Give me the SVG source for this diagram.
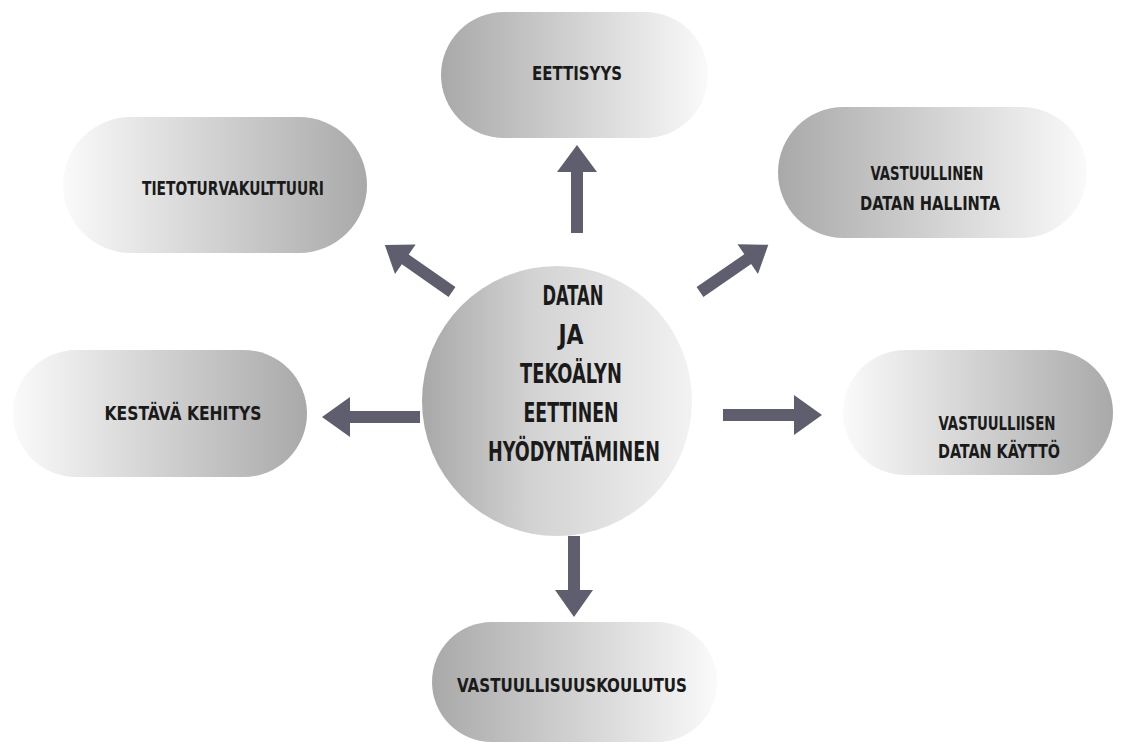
<svg xmlns="http://www.w3.org/2000/svg" width="1123" height="744" viewBox="0 0 1123 744">
<style>
.lbl{font-family:"Liberation Sans Narrow","DejaVu Sans Condensed","Liberation Sans",sans-serif;font-weight:bold;font-stretch:condensed;fill:#1a1a1a;text-anchor:middle}
.pl{font-size:20px}
.ct{font-size:26.5px}
.arr{fill:#5f5e6f}
</style>
<defs>
<linearGradient id="gDL" x1="0" y1="0" x2="1" y2="0">
<stop offset="0" stop-color="#a9a9a9"/><stop offset="1" stop-color="#fafafa"/>
</linearGradient>
<linearGradient id="gDR" x1="0" y1="0" x2="1" y2="0">
<stop offset="0" stop-color="#fafafa"/><stop offset="1" stop-color="#a9a9a9"/>
</linearGradient>
<linearGradient id="gC" x1="0" y1="0" x2="1" y2="0">
<stop offset="0" stop-color="#a8a8a8"/><stop offset="0.4" stop-color="#d2d2d2"/><stop offset="1" stop-color="#f2f2f2"/>
</linearGradient>
</defs>
<rect width="1123" height="744" fill="#ffffff"/>
<g id="connectors">
<path class="arr" transform="translate(577,233) rotate(-90)" d="M0,-6 L61,-6 L61,-20 L88,0 L61,20 L61,6 L0,6 Z"/>
<path class="arr" transform="translate(574,536) rotate(90)" d="M0,-6 L54,-6 L54,-19 L81,0 L54,19 L54,6 L0,6 Z"/>
<path class="arr" transform="translate(420,417) rotate(180)" d="M0,-6 L70,-6 L70,-20 L98,0 L70,20 L70,6 L0,6 Z"/>
<path class="arr" transform="translate(723,415)" d="M0,-6 L71,-6 L71,-20 L99,0 L71,20 L71,6 L0,6 Z"/>
<path class="arr" transform="translate(452,292) rotate(215)" d="M0,-6 L57,-6 L57,-18 L82,0 L57,18 L57,6 L0,6 Z"/>
<path class="arr" transform="translate(700,292) rotate(-34.6)" d="M0,-6 L58,-6 L58,-18 L83,0 L58,18 L58,6 L0,6 Z"/>
</g>
<g id="center">
<circle cx="557" cy="401" r="135" fill="url(#gC)"/>
<text class="lbl ct" x="573" y="305" textLength="61" lengthAdjust="spacingAndGlyphs">DATAN</text>
<text class="lbl ct" x="571" y="344" textLength="25" lengthAdjust="spacingAndGlyphs">JA</text>
<text class="lbl ct" x="571" y="383" textLength="102" lengthAdjust="spacingAndGlyphs">TEKOÄLYN</text>
<text class="lbl ct" x="571" y="422" textLength="95" lengthAdjust="spacingAndGlyphs">EETTINEN</text>
<text class="lbl ct" x="574" y="461" textLength="172" lengthAdjust="spacingAndGlyphs">HYÖDYNTÄMINEN</text>
</g>
<g id="n-eettisyys">
<rect x="441" y="12" width="267" height="126" rx="63" fill="url(#gDL)"/>
<text class="lbl pl" x="577" y="80" textLength="90" lengthAdjust="spacingAndGlyphs">EETTISYYS</text>
</g>
<g id="n-tietoturva">
<rect x="63" y="117" width="304" height="136" rx="68" fill="url(#gDR)"/>
<text class="lbl pl" x="233" y="195" textLength="182" lengthAdjust="spacingAndGlyphs">TIETOTURVAKULTTUURI</text>
</g>
<g id="n-hallinta">
<rect x="778" y="107" width="309" height="131" rx="65.5" fill="url(#gDL)"/>
<text class="lbl pl" x="927" y="180" textLength="113" lengthAdjust="spacingAndGlyphs">VASTUULLINEN</text>
<text class="lbl pl" x="930" y="210" textLength="140" lengthAdjust="spacingAndGlyphs">DATAN HALLINTA</text>
</g>
<g id="n-kestava">
<rect x="13" y="350" width="294" height="127" rx="63.5" fill="url(#gDR)"/>
<text class="lbl pl" x="183" y="420" textLength="157" lengthAdjust="spacingAndGlyphs">KESTÄVÄ KEHITYS</text>
</g>
<g id="n-kaytto">
<rect x="843" y="350" width="270" height="125" rx="62.5" fill="url(#gDR)"/>
<text class="lbl pl" x="997" y="430" textLength="117" lengthAdjust="spacingAndGlyphs">VASTUULLIISEN</text>
<text class="lbl pl" x="999" y="458" textLength="122" lengthAdjust="spacingAndGlyphs">DATAN KÄYTTÖ</text>
</g>
<g id="n-koulutus">
<rect x="432" y="622" width="285" height="120" rx="60" fill="url(#gDL)"/>
<text class="lbl pl" x="572" y="692" textLength="230" lengthAdjust="spacingAndGlyphs">VASTUULLISUUSKOULUTUS</text>
</g>
</svg>
